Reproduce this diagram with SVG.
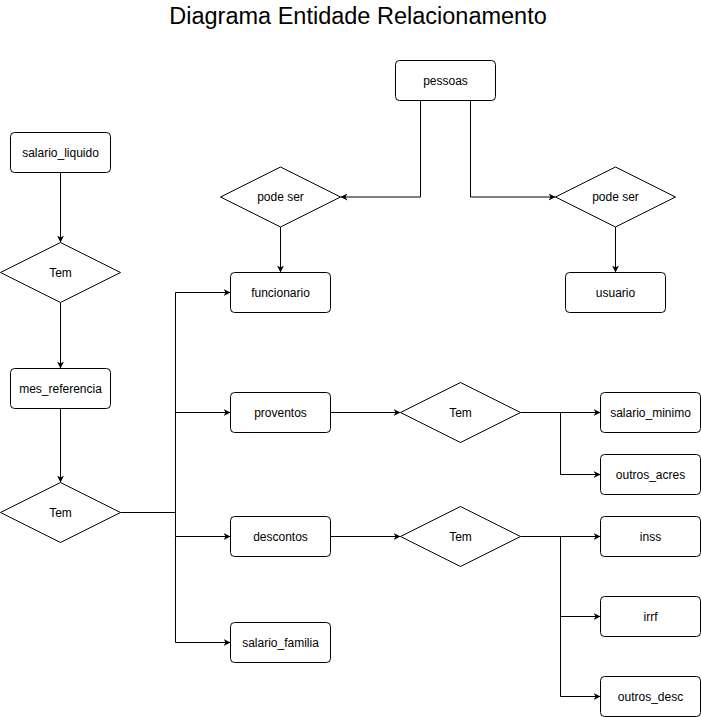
<svg xmlns="http://www.w3.org/2000/svg" width="701" height="717" viewBox="0 0 701 717">
<style>
.n rect, .n path { fill: #ffffff; stroke: #000000; stroke-width: 1; }
.n text { font-family: "Liberation Sans", Arial, Helvetica, sans-serif; font-size: 12px; fill: #000000; text-anchor: middle; dominant-baseline: central; }
.title { font-family: "Liberation Sans", Arial, Helvetica, sans-serif; font-size: 23.5px; fill: #000000; text-anchor: middle; }
#connectors path { fill: none; stroke: #000000; stroke-width: 1; }
#connectors path.a { marker-end: url(#arrow); }
</style>
<defs>
<marker id="arrow" viewBox="0 0 10 10" refX="10" refY="5" markerWidth="7" markerHeight="7" markerUnits="userSpaceOnUse" orient="auto">
<path d="M0,0 L10,5 L0,10 L3,5 Z" fill="#000000" stroke="none"/>
</marker>
</defs>
<rect x="0" y="0" width="701" height="717" fill="#ffffff"/>
<text class="title" x="358" y="24">Diagrama Entidade Relacionamento</text>

<g id="connectors">
<path class="a" d="M420.5,100.5 V197 H340.5"/>
<path class="a" d="M470.5,100.5 V197 H555.5"/>
<path class="a" d="M280.5,227 V272.5"/>
<path class="a" d="M615.5,227 V272.5"/>
<path class="a" d="M60.5,172.5 V242.5"/>
<path class="a" d="M60.5,302.5 V368.5"/>
<path class="a" d="M60.5,408.5 V482.5"/>
<path d="M120.5,512.5 H175.5"/>
<path class="a" d="M175.5,512.5 V292.5 H230.5"/>
<path class="a" d="M175.5,412.5 H230.5"/>
<path class="a" d="M175.5,512.5 V536.5 H230.5"/>
<path class="a" d="M175.5,536.5 V642.5 H230.5"/>
<path class="a" d="M330.5,412.5 H400.5"/>
<path class="a" d="M520.5,412.5 H600.5"/>
<path class="a" d="M560.5,412.5 V474.5 H600.5"/>
<path class="a" d="M330.5,536.5 H400.5"/>
<path class="a" d="M520.5,536.5 H600.5"/>
<path class="a" d="M560.5,536.5 V616.5 H600.5"/>
<path class="a" d="M560.5,616.5 V696.5 H600.5"/>
</g>

<g id="pessoas" class="n"><rect x="395.5" y="60.5" width="100" height="40" rx="4"/><text x="445.5" y="80.5">pessoas</text></g>
<g id="salario_liquido" class="n"><rect x="10.5" y="132.5" width="100" height="40" rx="4"/><text x="60.5" y="152.5">salario_liquido</text></g>
<g id="pode_ser_1" class="n"><path d="M280.5,167 L340.5,197 L280.5,227 L220.5,197 Z"/><text x="280.5" y="197">pode ser</text></g>
<g id="pode_ser_2" class="n"><path d="M615.5,167 L675.5,197 L615.5,227 L555.5,197 Z"/><text x="615.5" y="197">pode ser</text></g>
<g id="tem_1" class="n"><path d="M60.5,242.5 L120.5,272.5 L60.5,302.5 L0.5,272.5 Z"/><text x="60.5" y="272.5">Tem</text></g>
<g id="funcionario" class="n"><rect x="230.5" y="272.5" width="100" height="40" rx="4"/><text x="280.5" y="292.5">funcionario</text></g>
<g id="usuario" class="n"><rect x="565.5" y="272.5" width="100" height="40" rx="4"/><text x="615.5" y="292.5">usuario</text></g>
<g id="mes_referencia" class="n"><rect x="10.5" y="368.5" width="100" height="40" rx="4"/><text x="60.5" y="388.5">mes_referencia</text></g>
<g id="proventos" class="n"><rect x="230.5" y="392.5" width="100" height="40" rx="4"/><text x="280.5" y="412.5">proventos</text></g>
<g id="tem_proventos" class="n"><path d="M460.5,382.5 L520.5,412.5 L460.5,442.5 L400.5,412.5 Z"/><text x="460.5" y="412.5">Tem</text></g>
<g id="salario_minimo" class="n"><rect x="600.5" y="392.5" width="100" height="40" rx="4"/><text x="650.5" y="412.5">salario_minimo</text></g>
<g id="outros_acres" class="n"><rect x="600.5" y="454.5" width="100" height="40" rx="4"/><text x="650.5" y="474.5">outros_acres</text></g>
<g id="tem_2" class="n"><path d="M60.5,482.5 L120.5,512.5 L60.5,542.5 L0.5,512.5 Z"/><text x="60.5" y="512.5">Tem</text></g>
<g id="descontos" class="n"><rect x="230.5" y="516.5" width="100" height="40" rx="4"/><text x="280.5" y="536.5">descontos</text></g>
<g id="tem_descontos" class="n"><path d="M460.5,506.5 L520.5,536.5 L460.5,566.5 L400.5,536.5 Z"/><text x="460.5" y="536.5">Tem</text></g>
<g id="inss" class="n"><rect x="600.5" y="516.5" width="100" height="40" rx="4"/><text x="650.5" y="536.5">inss</text></g>
<g id="irrf" class="n"><rect x="600.5" y="596.5" width="100" height="40" rx="4"/><text x="650.5" y="616.5">irrf</text></g>
<g id="salario_familia" class="n"><rect x="230.5" y="622.5" width="100" height="40" rx="4"/><text x="280.5" y="642.5">salario_familia</text></g>
<g id="outros_desc" class="n"><rect x="600.5" y="676.5" width="100" height="40" rx="4"/><text x="650.5" y="696.5">outros_desc</text></g>
</svg>
